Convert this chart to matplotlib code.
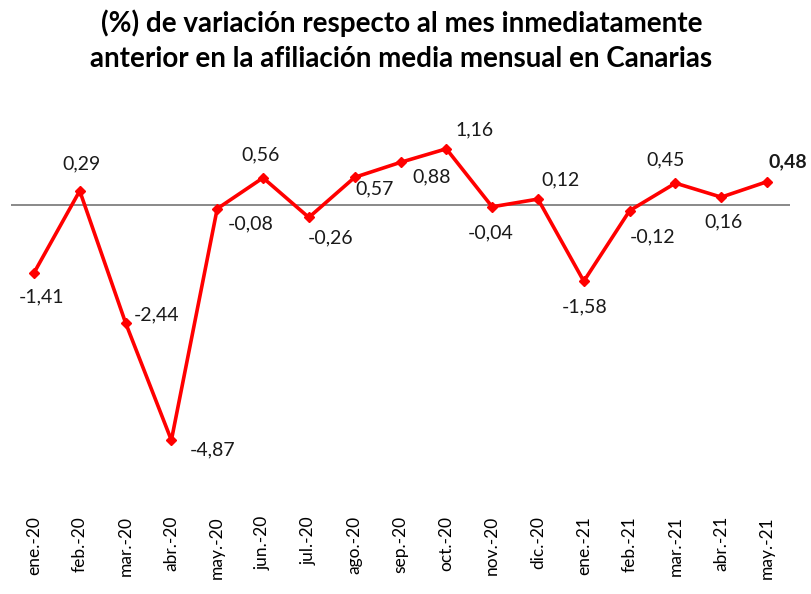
import matplotlib
matplotlib.use("Agg")
import matplotlib.pyplot as plt

months = ["ene.-20", "feb.-20", "mar.-20", "abr.-20", "may.-20", "jun.-20",
          "jul.-20", "ago.-20", "sep.-20", "oct.-20", "nov.-20", "dic.-20",
          "ene.-21", "feb.-21", "mar.-21", "abr.-21", "may.-21"]
values = [-1.41, 0.29, -2.44, -4.87, -0.08, 0.56, -0.26, 0.57, 0.88, 1.16,
          -0.04, 0.12, -1.58, -0.12, 0.45, 0.16, 0.48]
# label offsets in pixels (dx, dy) from each point
offsets = [(8, -24), (2, 27), (31, 8), (41, -10), (33, -15), (-2, 23),
           (22, -20), (20, -12), (31, -15), (28, 19), (-2, -26), (23, 19),
           (1, -26), (23, -26), (-10, 23), (2, -25), (21, 20)]

W, H = 811, 594
fig = plt.figure(figsize=(W / 100, H / 100), dpi=100)
ax = fig.add_axes([11 / W, 1 - 505 / H, 779 / W, 405 / H])

x = list(range(len(months)))
ax.axhline(0, color="#808080", lw=1.3, zorder=1)
ax.plot(x, values, color="#ff0000", lw=2.6, marker="D", markersize=5, zorder=3)

for i, (v, off) in enumerate(zip(values, offsets)):
    txt = f"{v:.2f}".replace(".", ",")
    ax.annotate(txt, (i, v), xytext=off, textcoords="offset pixels",
                ha="center", va="center", fontsize=14, family="Lato",
                color="#1a1a1a",
                fontweight="bold" if i == len(values) - 1 else "normal")

ax.set_xlim(-0.5, len(months) - 0.5)
ax.set_ylim(-6.21, 2.17)
ax.set_xticks(x)
ax.set_xticklabels(months, rotation=90, fontsize=12.5, family="Lato")
ax.tick_params(axis="x", length=0, pad=8)
ax.set_yticks([])
for s in ax.spines.values():
    s.set_visible(False)

fig.text(0.495, 1 - 23 / H, "(%) de variación respecto al mes inmediatamente",
         ha="center", va="center", fontsize=20, fontweight="bold", family="Lato")
fig.text(0.495, 1 - 59 / H, "anterior en la afiliación media mensual en Canarias",
         ha="center", va="center", fontsize=20, fontweight="bold", family="Lato")

fig.savefig("out.png", dpi=100)
